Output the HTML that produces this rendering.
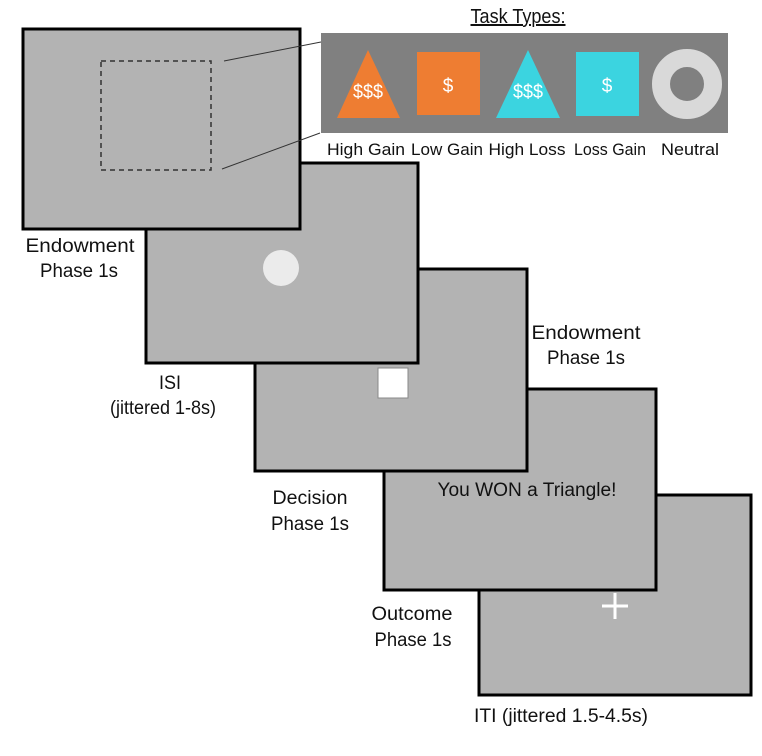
<!DOCTYPE html>
<html><head><meta charset="utf-8"><style>
html,body{margin:0;padding:0;background:#fff;}
svg{display:block;}
text{font-family:"Liberation Sans",sans-serif;fill:#111;}
</style></head><body>
<svg width="762" height="756" viewBox="0 0 762 756" xmlns="http://www.w3.org/2000/svg">
<rect x="479" y="495" width="272" height="200" fill="#b3b3b3" stroke="#000" stroke-width="3"/>
<rect x="384" y="389" width="272" height="201" fill="#b3b3b3" stroke="#000" stroke-width="3"/>
<rect x="255" y="269" width="272" height="202" fill="#b3b3b3" stroke="#000" stroke-width="3"/>
<rect x="146" y="163" width="272" height="200" fill="#b3b3b3" stroke="#000" stroke-width="3"/>
<rect x="23" y="29" width="277" height="200" fill="#b3b3b3" stroke="#000" stroke-width="3"/>
<rect x="101" y="61" width="110" height="109" fill="none" stroke="#333" stroke-width="1.5" stroke-dasharray="5,4"/>
<line x1="224" y1="61" x2="321" y2="42" stroke="#333" stroke-width="1"/>
<line x1="222" y1="169" x2="320" y2="133" stroke="#333" stroke-width="1"/>
<rect x="321" y="33" width="407" height="100" fill="#808080"/>
<polygon points="368,50 400,118 337,118" fill="#ee7d32"/>
<text x="368" y="98" font-size="19" text-anchor="middle" textLength="30" lengthAdjust="spacingAndGlyphs" style="fill:#fff">$$$</text>
<rect x="417" y="52" width="63" height="63" fill="#ee7d32"/>
<text x="448" y="92" font-size="19" text-anchor="middle" style="fill:#fff">$</text>
<polygon points="528,50 560,118 496,118" fill="#3bd4e0"/>
<text x="528" y="98" font-size="19" text-anchor="middle" textLength="30" lengthAdjust="spacingAndGlyphs" style="fill:#fff">$$$</text>
<rect x="576" y="52" width="63" height="64" fill="#3bd4e0"/>
<text x="607" y="92" font-size="19" text-anchor="middle" style="fill:#fff">$</text>
<circle cx="687" cy="84" r="26" fill="none" stroke="#d9d9d9" stroke-width="18"/>
<text x="518" y="23" font-size="20" text-anchor="middle" textLength="95" lengthAdjust="spacingAndGlyphs" text-decoration="underline">Task Types:</text>
<g font-size="17" text-anchor="middle">
<text x="366" y="155" textLength="78" lengthAdjust="spacingAndGlyphs">High Gain</text>
<text x="447" y="155" textLength="72" lengthAdjust="spacingAndGlyphs">Low Gain</text>
<text x="527" y="155" textLength="77" lengthAdjust="spacingAndGlyphs">High Loss</text>
<text x="610" y="155" textLength="72" lengthAdjust="spacingAndGlyphs">Loss Gain</text>
<text x="690" y="155" textLength="58" lengthAdjust="spacingAndGlyphs">Neutral</text>
</g>
<circle cx="281" cy="268" r="18" fill="#ebebeb"/>
<rect x="378" y="368" width="30" height="30" fill="#fff" stroke="#888" stroke-width="1"/>
<text x="527" y="496" font-size="19" text-anchor="middle" textLength="179" lengthAdjust="spacingAndGlyphs">You WON a Triangle!</text>
<line x1="615" y1="593" x2="615" y2="619" stroke="#fff" stroke-width="3"/>
<line x1="602" y1="606" x2="628" y2="606" stroke="#fff" stroke-width="3"/>
<g font-size="19" text-anchor="middle">
<text x="80" y="252" textLength="109" lengthAdjust="spacingAndGlyphs">Endowment</text>
<text x="79" y="277" textLength="78" lengthAdjust="spacingAndGlyphs">Phase 1s</text>
<text x="170" y="389" textLength="22" lengthAdjust="spacingAndGlyphs">ISI</text>
<text x="163" y="414" textLength="106" lengthAdjust="spacingAndGlyphs">(jittered 1-8s)</text>
<text x="310" y="504" textLength="75" lengthAdjust="spacingAndGlyphs">Decision</text>
<text x="310" y="530" textLength="78" lengthAdjust="spacingAndGlyphs">Phase 1s</text>
<text x="412" y="620" textLength="81" lengthAdjust="spacingAndGlyphs">Outcome</text>
<text x="413" y="646" textLength="77" lengthAdjust="spacingAndGlyphs">Phase 1s</text>
<text x="561" y="722" textLength="174" lengthAdjust="spacingAndGlyphs">ITI (jittered 1.5-4.5s)</text>
<text x="586" y="339" textLength="109" lengthAdjust="spacingAndGlyphs">Endowment</text>
<text x="586" y="364" textLength="78" lengthAdjust="spacingAndGlyphs">Phase 1s</text>
</g>
</svg>
</body></html>
